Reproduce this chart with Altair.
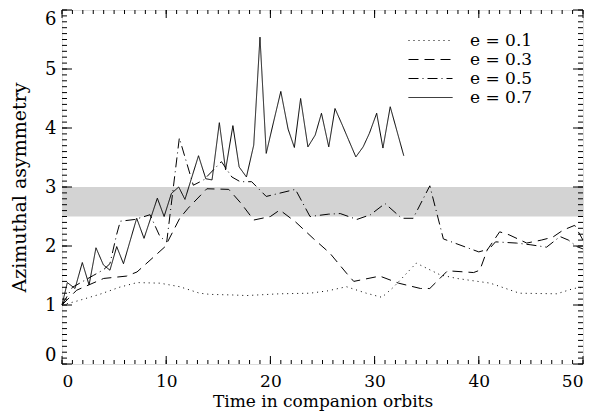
import altair as alt
import pandas as pd
import numpy as np

# ---- data ----
t_01 = [0, 1.5, 3.6, 5.5, 7.2, 9.4, 11.3, 13.2, 14.2, 16.4, 17.7, 20.9, 23.8, 25.5, 27.3,
        29.2, 30.7, 31.8, 34.0, 36.3, 37.9, 41.1, 43.9, 47.5, 49.1, 50]
v_01 = [1.0, 1.07, 1.18, 1.3, 1.38, 1.37, 1.31, 1.2, 1.18, 1.17, 1.16, 1.19, 1.2, 1.24, 1.31,
        1.2, 1.13, 1.3, 1.71, 1.51, 1.45, 1.37, 1.2, 1.19, 1.28, 1.3]

t_03 = [0, 1.4, 4.0, 6.2, 7.2, 9.9, 11.3, 12.1, 13.9, 16.0, 17.2, 18.4, 20.0, 20.9, 22.4,
        24.1, 25.7, 27.3, 28.0, 30.5, 32.3, 34.4, 35.3, 37.0, 39.5, 40.1, 40.8, 42.0, 42.9,
        44.6, 46.0, 47.1, 48.1, 49.2, 50]
v_03 = [1.0, 1.25, 1.45, 1.49, 1.56, 1.99, 2.47, 2.64, 2.97, 2.96, 2.72, 2.44, 2.5, 2.61, 2.41,
        2.13, 1.88, 1.54, 1.40, 1.49, 1.37, 1.28, 1.28, 1.58, 1.55, 1.59, 1.93, 2.24, 2.19,
        2.05, 2.1, 2.15, 2.27, 2.35, 2.1]

t_05 = [0, 1.0, 2.0, 3.0, 4.0, 4.6, 5.25, 5.6, 7.0, 8.45, 9.4, 10.05, 11.26, 12.6, 13.6,
        15.3, 16.3, 17.1, 18.2, 19.6, 22.4, 23.8, 25.6, 26.7, 28.3, 29.6, 31.0, 32.6, 33.7,
        35.3, 36.6, 40.0, 41.0, 41.6, 43.6, 45.0, 46.5, 47.8, 48.6, 49.4, 50]
v_05 = [1.0, 1.3, 1.4, 1.5, 1.6, 1.7, 2.2, 2.42, 2.45, 2.53, 2.16, 2.07, 3.83, 3.03, 3.12,
        3.43, 3.17, 3.09, 3.09, 2.84, 2.96, 2.5, 2.54, 2.55, 2.45, 2.53, 2.72, 2.47, 2.47,
        3.02, 2.12, 1.9, 1.95, 2.07, 2.05, 2.02, 1.98, 2.16, 2.1, 1.99, 1.95]

t_07 = [0, 0.51, 1.25, 1.95, 2.6, 3.26, 3.97, 4.6, 5.25, 5.9, 7.17, 7.87, 9.15, 9.8, 10.5,
        11.2, 11.8, 13.1, 13.8, 14.4, 15.1, 15.7, 16.4, 17.0, 17.7, 18.4, 19.0, 19.6, 20.3,
        21.0, 21.7, 22.3, 22.9, 23.6, 24.3, 24.9, 25.6, 26.2, 26.9, 27.5, 28.2, 28.9, 29.5,
        30.2, 30.8, 31.5, 32.8]
v_07 = [1.0, 1.38, 1.28, 1.72, 1.34, 1.97, 1.68, 1.59, 1.99, 1.7, 2.47, 2.13, 2.81, 2.5, 2.89,
        3.0, 2.79, 3.53, 3.14, 3.12, 4.09, 3.29, 4.04, 3.34, 3.17, 3.71, 5.54, 3.57, 4.1,
        4.62, 3.98, 3.67, 4.5, 3.68, 3.88, 4.25, 3.68, 4.33, 4.05, 3.8, 3.51, 3.68, 3.91,
        4.25, 3.66, 4.36, 3.53]

series_names = ["e = 0.1", "e = 0.3", "e = 0.5", "e = 0.7"]
band_low, band_high = 2.5, 3.0
x_ticks_major = [0, 10, 20, 30, 40, 50]
y_ticks_major = [0, 1, 2, 3, 4, 5, 6]

W, H = 521, 354
FONT = "DejaVu Serif"

rows = []
for name, ts, vs in zip(series_names, [t_01, t_03, t_05, t_07], [v_01, v_03, v_05, v_07]):
    for i, (t, v) in enumerate(zip(ts, vs)):
        rows.append({"series": name, "t": t, "v": v, "order": i})
df = pd.DataFrame(rows)

xs = alt.Scale(domain=[0, 50], nice=False, zero=False)
ys = alt.Scale(domain=[0, 6], nice=False, zero=False)

x_axis = alt.Axis(values=x_ticks_major, ticks=False, domain=False, grid=False,
                  labelPadding=9, title="Time in companion orbits", titlePadding=4,
                  labelFont=FONT, labelFontSize=17, titleFont=FONT, titleFontSize=17,
                  titleFontWeight="normal", labelColor="black", titleColor="black")
y_axis = alt.Axis(values=y_ticks_major, ticks=False, domain=False, grid=False,
                  labelPadding=6, labelFlush=True, title="Azimuthal asymmetry", titlePadding=15,
                  labelFont=FONT, labelFontSize=18, titleFont=FONT, titleFontSize=19,
                  titleFontWeight="normal", labelColor="black", titleColor="black")

band = alt.Chart(pd.DataFrame({"x0": [0], "x1": [50], "lo": [band_low], "hi": [band_high]})).mark_rect(
    color="#d3d3d3"
).encode(
    x=alt.X("x0:Q", scale=xs, axis=x_axis), x2="x1:Q",
    y=alt.Y("lo:Q", scale=ys, axis=y_axis), y2="hi:Q",
)

lines = alt.Chart(df).mark_line(color="black", strokeWidth=1).encode(
    x=alt.X("t:Q", scale=xs, axis=x_axis),
    y=alt.Y("v:Q", scale=ys, axis=y_axis),
    strokeDash=alt.StrokeDash(
        "series:N",
        scale=alt.Scale(domain=series_names, range=[[1, 4], [10, 6], [10, 4, 1, 4], [1, 0]]),
        legend=alt.Legend(title=None, orient="none", legendX=360, legendY=22,
                          symbolType="M-4,0H4", symbolSize=121,
                          symbolStrokeWidth=1, symbolStrokeColor="black",
                          labelFont=FONT, labelFontSize=17, labelColor="black",
                          labelOffset=31, rowPadding=1),
    ),
    order="order:Q",
)

# inward tick marks (drawn on the frame, through the scales)
x_minor = pd.DataFrame({"t": np.arange(0, 51, 1)})
x_major = pd.DataFrame({"t": x_ticks_major})
y_minor = pd.DataFrame({"v": np.round(np.arange(0, 6.001, 0.1), 2)})
y_major = pd.DataFrame({"v": y_ticks_major})

def xtick(data, length):
    bottom = alt.Chart(data).mark_rule(color="black", strokeWidth=1).encode(
        x=alt.X("t:Q", scale=xs, axis=x_axis), y=alt.value(H), y2=alt.value(H - length))
    top = alt.Chart(data).mark_rule(color="black", strokeWidth=1).encode(
        x=alt.X("t:Q", scale=xs, axis=x_axis), y=alt.value(0), y2=alt.value(length))
    return bottom + top

def ytick(data, length):
    left = alt.Chart(data).mark_rule(color="black", strokeWidth=1).encode(
        y=alt.Y("v:Q", scale=ys, axis=y_axis), x=alt.value(0), x2=alt.value(length))
    right = alt.Chart(data).mark_rule(color="black", strokeWidth=1).encode(
        y=alt.Y("v:Q", scale=ys, axis=y_axis), x=alt.value(W), x2=alt.value(W - length))
    return left + right

chart = alt.layer(
    band, lines,
    xtick(x_minor, 4), xtick(x_major, 8),
    ytick(y_minor, 5), ytick(y_major, 10),
).properties(
    width=W, height=H,
    autosize=alt.AutoSizeParams(type="none"),
    padding={"left": 54, "top": 2, "right": 8, "bottom": 48},
).configure_view(
    stroke="black", strokeWidth=1.5
).configure(background="white")

chart.save("out.html", embed_options={"renderer": "svg", "actions": False})
